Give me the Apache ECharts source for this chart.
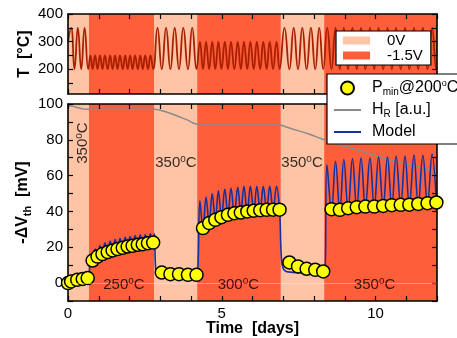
<!DOCTYPE html>
<html>
<head>
<meta charset="utf-8">
<script src="https://cdn.jsdelivr.net/npm/echarts@6.0.0/dist/echarts.min.js"></script>
<style>
html,body{margin:0;padding:0;background:#fff;}
#chart{width:457px;height:338px;}
</style>
</head>
<body>
<div id="chart"></div>
<script>
// ---------- DATA ----------
// voltage phases (days)
const bandStart = [0, 0.68, 2.8, 4.2, 6.92, 8.33];
const bandEnd   = [0.68, 2.8, 4.2, 6.92, 8.33, 12];
const bandVolt  = ['0V', '-1.5V', '0V', '-1.5V', '0V', '-1.5V'];

// temperature profile (turning points), top panel
const tempT = [0, 0.1, 0.21, 0.32, 0.43, 0.54, 0.66,
  0.73, 0.8, 0.88, 0.96, 1.04, 1.12, 1.2, 1.29, 1.37, 1.45, 1.53, 1.61, 1.69, 1.78, 1.86, 1.94, 2.02, 2.1, 2.18, 2.27, 2.35, 2.43, 2.51, 2.6, 2.68, 2.77,
  2.91, 3.05, 3.19, 3.33, 3.47, 3.61, 3.75, 3.9, 4.04, 4.18,
  4.29, 4.39, 4.49, 4.59, 4.69, 4.79, 4.89, 4.99, 5.1, 5.2, 5.3, 5.41, 5.52, 5.62, 5.72, 5.83, 5.93, 6.04, 6.14, 6.25, 6.35, 6.46, 6.56, 6.67, 6.78, 6.88,
  7.04, 7.2, 7.34, 7.48, 7.62, 7.76, 7.9, 8.04, 8.17, 8.3,
  8.43, 8.57, 8.7, 8.84, 8.97, 9.11, 9.25, 9.39, 9.53, 9.67, 9.82, 9.96, 10.1, 10.25, 10.39, 10.53, 10.67, 10.82, 10.96, 11.1, 11.25, 11.39, 11.54, 11.69, 11.84, 11.98, 12];
const tempV = [300, 350, 200, 350, 200, 350, 200,
  250, 200, 250, 200, 250, 200, 250, 200, 250, 200, 250, 200, 250, 200, 250, 200, 250, 200, 250, 200, 250, 200, 250, 200, 250, 200,
  350, 200, 350, 200, 350, 200, 350, 200, 350, 200,
  300, 200, 300, 200, 300, 200, 300, 200, 300, 200, 300, 200, 300, 200, 300, 200, 300, 200, 300, 200, 300, 200, 300, 200, 300, 200,
  350, 200, 350, 200, 350, 200, 350, 200, 350, 200,
  350, 200, 350, 200, 350, 200, 350, 200, 350, 200, 350, 200, 350, 200, 350, 200, 350, 200, 350, 200, 350, 200, 350, 200, 350, 200, 205];

// measured Pmin @200°C
const pointT = [0, 0.1, 0.3, 0.48, 0.64,
  0.8, 0.96, 1.12, 1.29, 1.45, 1.61, 1.78, 1.94, 2.1, 2.27, 2.43, 2.6, 2.77,
  3.05, 3.33, 3.61, 3.9, 4.18,
  4.39, 4.59, 4.79, 4.99, 5.2, 5.41, 5.62, 5.83, 6.04, 6.25, 6.46, 6.67, 6.88,
  7.2, 7.48, 7.76, 8.04, 8.3,
  8.57, 8.84, 9.11, 9.39, 9.67, 9.96, 10.25, 10.53, 10.82, 11.1, 11.39, 11.69, 11.98];
const pointV = [0, 0.9, 1.8, 2.3, 2.8,
  12.6, 14.8, 16.2, 17.3, 18.2, 19.0, 19.7, 20.4, 20.8, 21.4, 21.7, 22.3, 22.6,
  5.9, 5.0, 5.0, 4.6, 4.6,
  30.7, 33.5, 35.3, 36.8, 38.1, 39.0, 39.4, 40.0, 40.4, 40.7, 40.9, 41.0, 41.0,
  11.5, 9.3, 8.0, 7.4, 6.5,
  41.3, 40.9, 41.8, 42.4, 42.7, 42.7, 43.1, 43.5, 43.7, 43.8, 44.2, 44.6, 45.0];

// model curve (turning points)
const modelT = [0, 0.15, 0.3, 0.5, 0.68,
  0.72, 0.8, 0.88, 0.96, 1.04, 1.12, 1.2, 1.29, 1.37, 1.45, 1.53, 1.61, 1.69, 1.78, 1.86, 1.94, 2.02, 2.1, 2.18, 2.27, 2.35, 2.43, 2.51, 2.6, 2.68, 2.77, 2.81, 2.86,
  2.95, 3.3, 3.7, 4.1, 4.2,
  4.29, 4.39, 4.49, 4.59, 4.69, 4.79, 4.89, 4.99, 5.1, 5.2, 5.3, 5.41, 5.52, 5.62, 5.72, 5.83, 5.93, 6.04, 6.14, 6.25, 6.35, 6.46, 6.56, 6.67, 6.78, 6.88,
  6.95, 7.05, 7.3, 7.7, 8.1, 8.33,
  8.42, 8.57, 8.7, 8.84, 8.97, 9.11, 9.25, 9.39, 9.53, 9.67, 9.82, 9.96, 10.1, 10.25, 10.39, 10.53, 10.67, 10.82, 10.96, 11.1, 11.25, 11.39, 11.54, 11.69, 11.84, 11.98];
const modelV = [0.5, 2.5, 3.5, 4.3, 5,
  13.5, 12, 19, 14, 21, 15.5, 22.5, 16.5, 23.5, 17.5, 24.5, 18.3, 25, 19, 25.5, 19.7, 26, 20.2, 26.5, 20.8, 27, 21.2, 27, 21.7, 27.5, 22, 27.5, 6,
  5.2, 4.9, 4.7, 4.6, 4.8,
  46, 30, 48, 33, 50, 35, 51.5, 36.5, 52.5, 37.7, 53, 38.6, 53.5, 39, 54, 39.6, 54, 40, 54, 40.3, 54, 40.5, 54, 40.6, 54, 40.6,
  12, 7, 6, 5.6, 5.3, 5.3,
  66, 40.5, 68, 40, 69, 41, 69.5, 41.5, 70, 42, 70, 42, 70.5, 42.3, 70.5, 42.7, 71, 43, 71, 43, 71.5, 43.5, 71.5, 44, 72, 44.2];

// H_R (a.u.)
const hrT = [0, 0.15, 0.3, 0.45, 0.6, 2.85, 3.0, 3.15, 3.3, 3.45, 3.6, 3.75, 3.9, 4.05, 4.25, 6.92, 7.1, 7.3, 7.5, 7.7, 7.9, 8.1, 8.33, 8.8, 9.3, 9.8, 10.3, 10.8, 11.3, 11.8, 12];
const hrV = [99, 98.8, 98, 97.3, 97, 97, 96.5, 95.8, 95, 94, 93, 92, 91, 89.5, 88.3, 88.3, 87.2, 86, 85, 84, 82.8, 81.5, 80, 77.5, 75, 72.2, 69.6, 67.4, 65.2, 63, 62];

// annotations
const annLabel = ['350', '350', '350', '250', '300', '350'];
const annT = [0.49, 3.51, 7.61, 1.82, 5.54, 9.97];
const annV = [78.2, 67, 67, -1, -1, -1];
const annRot = [90, 0, 0, 0, 0, 0];

// tick labels
const xTickLabels = [0, 5, 10];
const tTickLabels = [200, 300, 400];
const tTicks = [150, 200, 250, 300, 350, 400];

// ---------- CHART ----------
const LIGHT = '#FFC4A5', DARK = '#FF5E3A';
const FONT = 'Liberation Sans, Arial, Helvetica, sans-serif';
const chart = echarts.init(document.getElementById('chart'), null, {renderer: 'canvas'});

function bandData(kind) {
  const d = [];
  for (let i = 0; i < bandStart.length; i++) if (bandVolt[i] === kind) d.push([bandStart[i], bandEnd[i]]);
  return d;
}
function bandSeries(name, color, xi, yi) {
  return {
    type: 'custom', name: name, xAxisIndex: xi, yAxisIndex: yi, z: 1, silent: true,
    itemStyle: {color: color},
    encode: {x: [0, 1]},
    data: bandData(name),
    renderItem: function (params, api) {
      const a = api.coord([api.value(0), 0]);
      const b = api.coord([api.value(1), 0]);
      const cs = params.coordSys;
      return {type: 'rect', shape: {x: a[0], y: cs.y, width: b[0] - a[0], height: cs.height},
        style: {fill: api.visual('color')}};
    }
  };
}
const zip = (a, b) => a.map((v, i) => [v, b[i]]);

const tickStyle = {inside: true, length: 5, lineStyle: {color: '#000', width: 1.2}};
const lineStyle = {show: true, onZero: false, lineStyle: {color: '#000', width: 1.6}};
const labelStyle = {color: '#000', fontSize: 15, fontFamily: FONT, margin: 5};
const noSym = {color: 'rgba(0,0,0,0)', borderColor: 'rgba(0,0,0,0)', borderWidth: 0, opacity: 0};

function xAx(grid, pos, labels, extra) {
  return Object.assign({
    type: 'value', gridIndex: grid, position: pos, min: 0, max: 12, interval: 1, z: 3,
    axisLine: lineStyle, axisTick: tickStyle, splitLine: {show: false},
    axisLabel: labels ? Object.assign({}, labelStyle, {formatter: v => xTickLabels.indexOf(v) >= 0 ? String(v) : ''}) : {show: false}
  }, extra || {});
}

const option = {
  animation: false,
  backgroundColor: '#fff',
  textStyle: {fontFamily: FONT},
  grid: [
    {left: 68, top: 14, width: 369, height: 80, containLabel: false, outerBoundsMode: 'none'},
    {left: 68, top: 104, width: 369, height: 197, containLabel: false, outerBoundsMode: 'none'}
  ],
  xAxis: [
    xAx(0, 'bottom', false),
    xAx(0, 'top', false),
    xAx(1, 'bottom', true, {name: 'Time  [days]', nameLocation: 'middle', nameGap: 20, nameMoveOverlap: false,
      nameTextStyle: {fontSize: 16, fontWeight: 'bold', color: '#000', fontFamily: FONT, verticalAlign: 'top'}}),
    xAx(1, 'top', false)
  ],
  yAxis: [
    {type: 'value', gridIndex: 0, position: 'left', min: 110, max: 400, z: 3,
      axisLine: lineStyle, splitLine: {show: false},
      axisTick: Object.assign({}, tickStyle, {customValues: tTicks}),
      axisLabel: Object.assign({}, labelStyle, {customValues: tTickLabels}),
      name: 'T  [°C]', nameLocation: 'middle', nameGap: 35, nameRotate: 90, nameMoveOverlap: false,
      nameTextStyle: {fontSize: 16, fontWeight: 'bold', color: '#000', fontFamily: FONT}},
    {type: 'value', gridIndex: 0, position: 'right', min: 110, max: 400, z: 3,
      axisLine: lineStyle, splitLine: {show: false},
      axisTick: Object.assign({}, tickStyle, {customValues: tTicks}),
      axisLabel: {show: false}},
    {type: 'value', gridIndex: 1, position: 'left', min: -10, max: 100, interval: 10, z: 3,
      axisLine: lineStyle, splitLine: {show: false}, axisTick: tickStyle,
      axisLabel: Object.assign({}, labelStyle, {formatter: v => (v >= 0 && v % 20 === 0) ? String(v) : ''}),
      name: '{b|-ΔV}{sub|th}{b|  [mV]}', nameLocation: 'middle', nameGap: 35, nameRotate: 90, nameMoveOverlap: false,
      nameTextStyle: {color: '#000', fontFamily: FONT, rich: {
        b: {fontSize: 16, fontWeight: 'bold', lineHeight: 20, color: '#000', fontFamily: FONT},
        sub: {fontSize: 11, fontWeight: 'bold', lineHeight: 10, verticalAlign: 'bottom', color: '#000', fontFamily: FONT}
      }}},
    {type: 'value', gridIndex: 1, position: 'right', min: -10, max: 100, interval: 10, z: 3,
      axisLine: lineStyle, splitLine: {show: false}, axisTick: tickStyle, axisLabel: {show: false}}
  ],
  legend: [
    {
      orient: 'vertical', left: 336, top: 31, z: 10, selectedMode: false,
      backgroundColor: '#fff', borderColor: '#000', borderWidth: 1.2, borderRadius: 0,
      padding: [2, 8, 2, 7], itemGap: 0, itemWidth: 27, itemHeight: 8,
      data: [{name: '0V', icon: 'rect'}, {name: '-1.5V', icon: 'rect'}],
      formatter: n => '{t|' + n + '}',
      textStyle: {rich: {t: {fontSize: 15, lineHeight: 16, color: '#000', fontFamily: FONT, padding: [0, 0, 0, 12]}}}
    },
    {
      orient: 'vertical', left: 327, top: 74, z: 10, selectedMode: false,
      backgroundColor: '#fff', borderColor: '#000', borderWidth: 1.2, borderRadius: 0,
      padding: [5, 8, 4, 6], itemGap: 5, itemWidth: 27, itemHeight: 13,
      data: [{name: 'Pmin@200°C', icon: 'circle'},
             {name: 'HR [a.u.]', itemStyle: noSym},
             {name: 'Model', itemStyle: noSym}],
      formatter: n => ({
        'Pmin@200°C': '{f|P}{sub|min}{t|@200}{sup|o}{t|C}',
        'HR [a.u.]': '{f|H}{sub|R}{t| [a.u.]}',
        'Model': '{f|Model}'
      })[n],
      textStyle: {rich: {
        f: {fontSize: 16, lineHeight: 18, color: '#000', fontFamily: FONT, padding: [0, 0, 0, 6]},
        t: {fontSize: 16, lineHeight: 18, color: '#000', fontFamily: FONT},
        sub: {fontSize: 10, lineHeight: 10, verticalAlign: 'bottom', color: '#000', fontFamily: FONT},
        sup: {fontSize: 9, lineHeight: 10, verticalAlign: 'top', color: '#000', fontFamily: FONT}
      }}
    }
  ],
  series: [
    bandSeries('0V', LIGHT, 0, 0),
    bandSeries('-1.5V', DARK, 0, 0),
    bandSeries('0V', LIGHT, 2, 2),
    bandSeries('-1.5V', DARK, 2, 2),
    {
      type: 'line', name: 'T', xAxisIndex: 0, yAxisIndex: 0, z: 2, silent: true,
      data: zip(tempT, tempV), smooth: 0.5, symbol: 'none',
      lineStyle: {color: '#A82000', width: 1.8}
    },
    {
      type: 'line', name: 'HR [a.u.]', xAxisIndex: 2, yAxisIndex: 2, z: 2, silent: true,
      data: zip(hrT, hrV), symbol: 'none', color: '#8A8A8A',
      lineStyle: {color: '#8A8A8A', width: 1.5},
      markLine: {silent: true, symbol: 'none', label: {show: false},
        lineStyle: {color: 'rgba(255,255,255,0.35)', width: 1, type: 'solid'},
        data: [{yAxis: 0}]}
    },
    {
      type: 'line', name: 'Model', xAxisIndex: 2, yAxisIndex: 2, z: 2, silent: true,
      data: zip(modelT, modelV), smooth: 0.4, symbol: 'none', color: '#1531A0',
      lineStyle: {color: '#1531A0', width: 1.6}
    },
    {
      type: 'scatter', name: 'Pmin@200°C', xAxisIndex: 2, yAxisIndex: 2, z: 4, clip: false, silent: true,
      data: zip(pointT, pointV), symbol: 'circle', symbolSize: 13,
      itemStyle: {color: '#FFFF00', borderColor: '#000', borderWidth: 1.5, opacity: 1}
    },
    {
      type: 'scatter', name: 'ann', xAxisIndex: 2, yAxisIndex: 2, z: 5, clip: false, silent: true,
      symbolSize: 0,
      data: annLabel.map((n, i) => ({name: n, value: [annT[i], annV[i]], label: {rotate: annRot[i]}})),
      label: {show: true, position: 'inside',
        formatter: p => '{a|' + p.name + '}{s|o}{a|C}',
        rich: {
          a: {fontSize: 15, lineHeight: 18, color: '#000', fontFamily: FONT},
          s: {fontSize: 10, lineHeight: 10, verticalAlign: 'top', color: '#000', fontFamily: FONT}
        }}
    }
  ]
};
chart.setOption(option);
</script>
</body>
</html>
